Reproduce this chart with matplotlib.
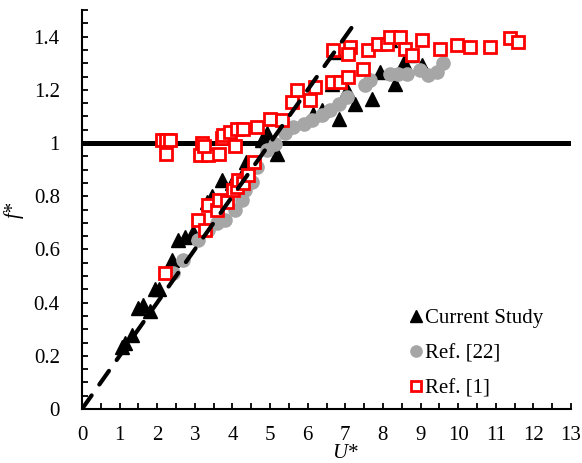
import numpy as np
import matplotlib
matplotlib.use("Agg")
import matplotlib.pyplot as plt
from matplotlib.ticker import MultipleLocator, FuncFormatter

plt.rcParams["font.family"] = ["Liberation Serif", "DejaVu Serif"]

# Current Study (black triangles)
cs_u = [1.06, 1.14, 1.32, 1.50, 1.62, 1.81, 1.94, 2.06, 2.39, 2.56, 2.74, 2.95,
        3.32, 3.45, 3.72, 3.98, 4.25, 4.35, 4.78, 4.91, 5.18, 6.15, 6.37, 6.64,
        6.73, 6.82, 7.04, 7.26, 7.70, 7.93, 8.19, 8.32, 8.55, 8.72, 9.03]
cs_f = [0.234, 0.25, 0.278, 0.38, 0.39, 0.37, 0.453, 0.45, 0.56, 0.635, 0.645, 0.665,
        0.78, 0.80, 0.86, 0.85, 0.88, 0.93, 1.01, 1.036, 0.96, 1.11, 1.123, 1.223,
        1.342, 1.092, 1.198, 1.148, 1.167, 1.267, 1.386, 1.223, 1.305, 1.33, 1.292]

# Ref. [22] (grey circles)
r22_u = [2.43, 2.69, 3.09, 3.36, 3.58, 3.80, 4.07, 4.25, 4.34, 4.51, 4.65, 4.91,
         5.13, 5.40, 5.62, 5.89, 6.11, 6.37, 6.60, 6.82, 7.04, 7.53, 7.66, 8.19,
         8.41, 8.64, 8.99, 9.21, 9.43, 9.61]
r22_f = [0.51, 0.56, 0.635, 0.672, 0.70, 0.71, 0.748, 0.785, 0.823, 0.854, 0.91, 0.973,
         0.998, 1.036, 1.06, 1.073, 1.086, 1.104, 1.123, 1.148, 1.173, 1.217, 1.236, 1.261,
         1.261, 1.261, 1.274, 1.255, 1.267, 1.299]

# Ref. [1] (red open squares)
r1_u = [2.21, 3.09, 3.27, 3.36, 3.58, 3.63, 3.85, 4.02, 4.11, 4.16, 4.29, 4.42, 4.56,
        2.12, 2.23, 2.34, 2.23, 3.18, 3.14, 3.36, 3.63, 3.23, 3.72, 3.76, 3.94, 4.07,
        4.11, 4.29, 4.65, 5.00, 5.31, 5.58, 5.71, 6.06, 6.20, 6.64, 6.86, 7.08, 7.48,
        6.68, 7.13, 7.08, 7.61, 7.88, 8.10, 8.19, 8.46, 8.59, 8.77, 9.03, 9.52,
        9.97, 10.32, 10.85, 11.38, 11.60]
r1_f = [0.51, 0.71, 0.672, 0.766, 0.748, 0.785, 0.779, 0.823, 0.835, 0.86, 0.848, 0.879, 0.929,
        1.01, 1.01, 1.01, 0.96, 1.0, 0.954, 0.954, 0.96, 0.99, 1.017, 1.03, 1.04, 0.99,
        1.054, 1.054, 1.06, 1.092, 1.088, 1.154, 1.198, 1.161, 1.21, 1.23, 1.23, 1.248, 1.28,
        1.349, 1.361, 1.336, 1.349, 1.374, 1.374, 1.399, 1.399, 1.355, 1.33, 1.389, 1.355,
        1.367, 1.361, 1.361, 1.393, 1.38]

# reference lines
line_u = [0, 7.3]
line_f = [0, 1.46]
hline_u = [0, 13]
hline_f = [1, 1]

fig = plt.figure(figsize=(5.82, 4.63), dpi=100)
ax = fig.add_axes([0.1409, 0.1166, 0.8402, 0.8618])

ax.plot(hline_u, hline_f, color="black", lw=3.6, zorder=1, solid_capstyle="butt")
ax.plot(cs_u, cs_f, ls="none", marker="^", ms=9.5, color="black", zorder=2,
        label="Current Study")
ax.plot(r22_u, r22_f, ls="none", marker="o", ms=9.5, color="#a6a6a6", zorder=3,
        label="Ref. [22]")
ax.plot(r1_u, r1_f, ls="none", marker="s", ms=8, mfc="white", mec="red", mew=2,
        zorder=4, label="Ref. [1]")
dl, = ax.plot(line_u, line_f, color="black", lw=3, zorder=5, dash_capstyle="round")
dl.set_dashes((4, 3.2))

ax.set_xlim(0, 13)
ax.set_ylim(0, 1.5)
ax.xaxis.set_major_locator(MultipleLocator(1))
ax.xaxis.set_minor_locator(MultipleLocator(0.5))
ax.yaxis.set_major_locator(MultipleLocator(0.2))
ax.yaxis.set_minor_locator(MultipleLocator(0.05))
ax.yaxis.set_major_formatter(FuncFormatter(lambda v, p: "%g" % round(v, 2)))

for s in ["top", "right"]:
    ax.spines[s].set_visible(False)
for s in ["left", "bottom"]:
    ax.spines[s].set_linewidth(1.5)

ax.tick_params(which="both", direction="in", length=4, width=1.3, labelsize=15)
ax.tick_params(axis="x", pad=12)
ax.tick_params(axis="y", pad=16)

ax.set_xlabel("U*", fontsize=15, style="italic")
ax.xaxis.set_label_coords(0.538, -0.088)
ax.set_ylabel("f*", fontsize=15, style="italic")
ax.yaxis.set_label_coords(-0.12, 0.5)

ax.legend(loc="lower right", bbox_to_anchor=(0.973, -0.01), frameon=False, fontsize=15,
          handlelength=0.6, handletextpad=0.15, labelspacing=0.75, borderaxespad=0.3,
          markerscale=0.85)

fig.savefig("out.png", dpi=100)
